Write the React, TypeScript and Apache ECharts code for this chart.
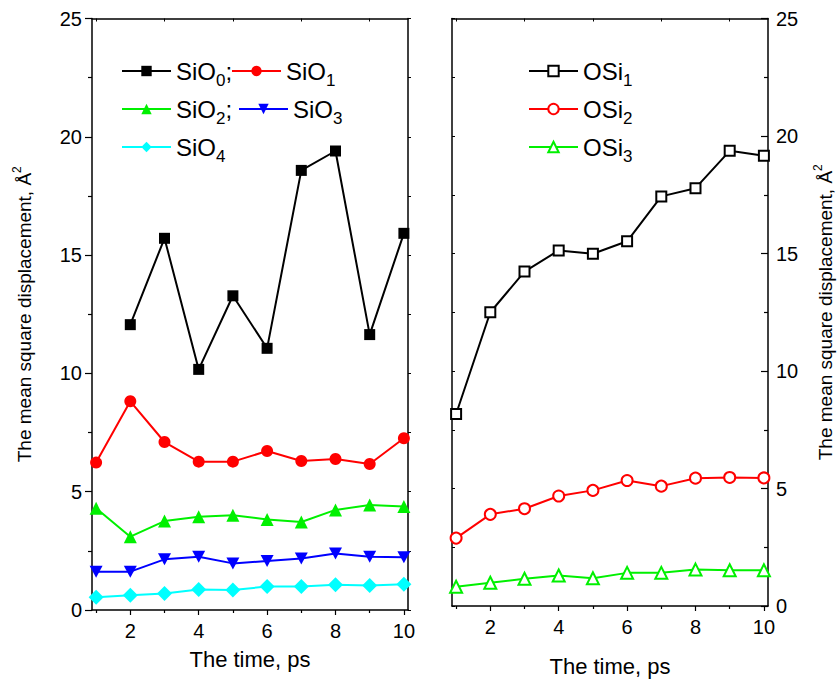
import React, { useEffect, useRef } from "react";
import * as echarts from "echarts";

const times = [1, 2, 3, 4, 5, 6, 7, 8, 9, 10];
const sio0 = [null, 12.06, 15.71, 10.17, 13.28, 11.06, 18.58, 19.4, 11.64, 15.92];
const sio1 = [6.23, 8.82, 7.1, 6.27, 6.27, 6.72, 6.3, 6.38, 6.17, 7.26];
const sio2 = [4.3, 3.1, 3.76, 3.94, 4.0, 3.83, 3.72, 4.23, 4.44, 4.37];
const sio3 = [1.62, 1.62, 2.14, 2.25, 1.97, 2.07, 2.18, 2.39, 2.25, 2.23];
const sio4 = [0.54, 0.62, 0.7, 0.87, 0.85, 0.99, 0.99, 1.07, 1.04, 1.09];
const osi1 = [8.17, 12.5, 14.23, 15.13, 14.99, 15.52, 17.43, 17.78, 19.37, 19.16];
const osi2 = [2.89, 3.9, 4.14, 4.68, 4.92, 5.34, 5.1, 5.44, 5.47, 5.45];
const osi3 = [0.82, 0.99, 1.16, 1.3, 1.18, 1.41, 1.41, 1.55, 1.52, 1.52];

const majorX = [2, 4, 6, 8, 10];
const minorX = [1, 3, 5, 7, 9];
const xTitle = "The time, ps";
const yTitle = "The mean square displacement, Å{sup|2}";

const FONT = 'Arial, "Liberation Sans", Helvetica, sans-serif';
const DOWN_TRI = "path://M0,0 L10,0 L5,9 Z";

function pts(arr: (number | null)[]) {
  return times.map((t, i) => [t, arr[i]]).filter((p) => p[1] !== null);
}

const legendNames: Record<string, string> = {
  "SiO0": "{n|SiO}{s|0}{n|;}",
  "SiO1": "{n|SiO}{s|1}",
  "SiO2": "{n|SiO}{s|2}{n|;}",
  "SiO3": "{n|SiO}{s|3}",
  "SiO4": "{n|SiO}{s|4}",
  "OSi1": "{n|OSi}{s|1}",
  "OSi2": "{n|OSi}{s|2}",
  "OSi3": "{n|OSi}{s|3}",
};

export default function App() {
  const ref = useRef<HTMLDivElement>(null);
  useEffect(() => {
    if (!ref.current) return;
    const chart = echarts.init(ref.current, null, { renderer: "svg" });

    const black = "#000";
    const axisLine = { show: true, onZero: false, lineStyle: { color: black, width: 1.5 } };

    const xAxes: any[] = [];
    const yAxes: any[] = [];
    [0, 1].forEach((g) => {
      xAxes.push({
        type: "value",
        gridIndex: g,
        min: 0.88,
        max: 10.12,
        position: "bottom",
        axisLine,
        axisTick: { show: true, customValues: majorX, length: 5, lineStyle: { color: black, width: 1.2 } },
        axisLabel: {
          show: true,
          customValues: majorX,
          fontSize: 20,
          color: black,
          fontFamily: FONT,
          margin: 11,
          formatter: (v: number) => (Number.isInteger(v) && v % 2 === 0 ? String(v) : ""),
        },
        splitLine: { show: false },
        name: xTitle,
        nameLocation: "middle",
        nameGap: g === 0 ? 38 : 49,
        nameTextStyle: { fontSize: 22, color: black, fontFamily: FONT },
      });
      xAxes.push({
        type: "value",
        gridIndex: g,
        min: 0.88,
        max: 10.12,
        position: "bottom",
        axisLine: { show: false, onZero: false },
        axisTick: { show: true, customValues: minorX, length: 3, lineStyle: { color: black, width: 1.2 } },
        axisLabel: { show: false },
        splitLine: { show: false },
      });
      xAxes.push({
        type: "value",
        gridIndex: g,
        min: 0.88,
        max: 10.12,
        position: "top",
        axisLine,
        axisTick: { show: true, inside: true, customValues: minorX, length: 3, lineStyle: { color: black, width: 1 } },
        axisLabel: { show: false },
        splitLine: { show: false },
      });
    });

    const yName = {
      name: yTitle,
      nameLocation: "middle",
      nameRotate: 90,
      nameTextStyle: {
        fontSize: 19,
        color: black,
        fontFamily: FONT,
        rich: { sup: { fontSize: 12, fontFamily: FONT, color: black, padding: [0, 0, 14, 0] } },
      },
    };
    yAxes.push({
      type: "value",
      gridIndex: 0,
      min: 0,
      max: 25,
      interval: 5,
      position: "left",
      axisLine,
      axisTick: { show: true, length: 7, lineStyle: { color: black, width: 1.2 } },
      minorTick: { show: true, splitNumber: 2, length: 4, lineStyle: { color: black, width: 1.2 } },
      axisLabel: { fontSize: 20, color: black, fontFamily: FONT, margin: 10 },
      splitLine: { show: false },
      ...yName,
      nameGap: 55,
    });
    yAxes.push({
      type: "value",
      gridIndex: 0,
      min: 0,
      max: 25,
      interval: 5,
      position: "right",
      axisLine,
      axisTick: { show: true, length: 3, lineStyle: { color: black, width: 1 } },
      minorTick: { show: true, splitNumber: 2, length: 3, lineStyle: { color: black, width: 1 } },
      axisLabel: { show: false },
      splitLine: { show: false },
    });
    yAxes.push({
      type: "value",
      gridIndex: 1,
      min: 0,
      max: 25,
      interval: 5,
      position: "right",
      axisLine,
      axisTick: { show: true, inside: true, length: 7, lineStyle: { color: black, width: 1.2 } },
      minorTick: { show: true, splitNumber: 2, length: 4, lineStyle: { color: black, width: 1.2 } },
      axisLabel: { fontSize: 20, color: black, fontFamily: FONT, margin: 8 },
      splitLine: { show: false },
      ...yName,
      nameGap: 44,
    });
    yAxes.push({
      type: "value",
      gridIndex: 1,
      min: 0,
      max: 25,
      interval: 5,
      position: "left",
      axisLine,
      axisTick: { show: true, inside: true, length: 3, lineStyle: { color: black, width: 1 } },
      minorTick: { show: true, splitNumber: 2, length: 3, lineStyle: { color: black, width: 1 } },
      axisLabel: { show: false },
      splitLine: { show: false },
    });

    const mk = (
      name: string,
      arr: (number | null)[],
      color: string,
      symbol: string,
      size: any,
      grid: number,
      empty = false
    ) => ({
      type: "line",
      name,
      xAxisIndex: grid * 3,
      yAxisIndex: grid * 2,
      data: pts(arr),
      symbol,
      symbolSize: size,
      showAllSymbol: true,
      clip: false,
      lineStyle: { color, width: 2 },
      itemStyle: empty
        ? { color, borderColor: color, borderWidth: 1.3 }
        : { color, borderColor: color, borderWidth: 0 },
      z: 3,
    });

    const series = [
      mk("SiO0", sio0, "#000000", "rect", 11, 0),
      mk("SiO1", sio1, "#ff0000", "circle", 12, 0),
      mk("SiO2", sio2, "#00f000", "triangle", 13, 0),
      mk("SiO3", sio3, "#0000ff", DOWN_TRI, [13, 12], 0),
      mk("SiO4", sio4, "#00ffff", "diamond", 15, 0),
      mk("OSi1", osi1, "#000000", "emptyRect", 10, 1, true),
      mk("OSi2", osi2, "#ff0000", "emptyCircle", 11, 1, true),
      mk("OSi3", osi3, "#00f000", "emptyTriangle", 12, 1, true),
    ];

    const legendPos: [string, number, number][] = [
      ["SiO0", 121, 76],
      ["SiO1", 231, 76],
      ["SiO2", 121, 114],
      ["SiO3", 238, 114],
      ["SiO4", 121, 152],
      ["OSi1", 528, 76],
      ["OSi2", 528, 114],
      ["OSi3", 528, 152],
    ];
    const legends = legendPos.map(([name, left, cy]) => ({
      data: [name],
      left,
      top: cy - 17,
      padding: 0,
      itemWidth: 49,
      itemHeight: 13,
      selectedMode: false,
      formatter: (n: string) => legendNames[n],
      textStyle: {
        color: black,
        fontFamily: FONT,
        rich: {
          n: { fontSize: 24, color: black, fontFamily: FONT },
          s: { fontSize: 17, color: black, fontFamily: FONT, padding: [18, 0, 0, 0] },
        },
      },
    }));

    chart.setOption({
      animation: false,
      backgroundColor: "#fff",
      grid: [
        { left: 92, top: 18.5, width: 316, height: 591.5 },
        { left: 452, top: 18.5, width: 316, height: 591.5 },
      ],
      xAxis: xAxes,
      yAxis: yAxes,
      legend: legends,
      series,
    });
    return () => chart.dispose();
  }, []);
  return (
    <div
      ref={ref}
      style={{ position: "absolute", left: 0, top: 0, width: 837, height: 682, background: "#fff" }}
    />
  );
}
